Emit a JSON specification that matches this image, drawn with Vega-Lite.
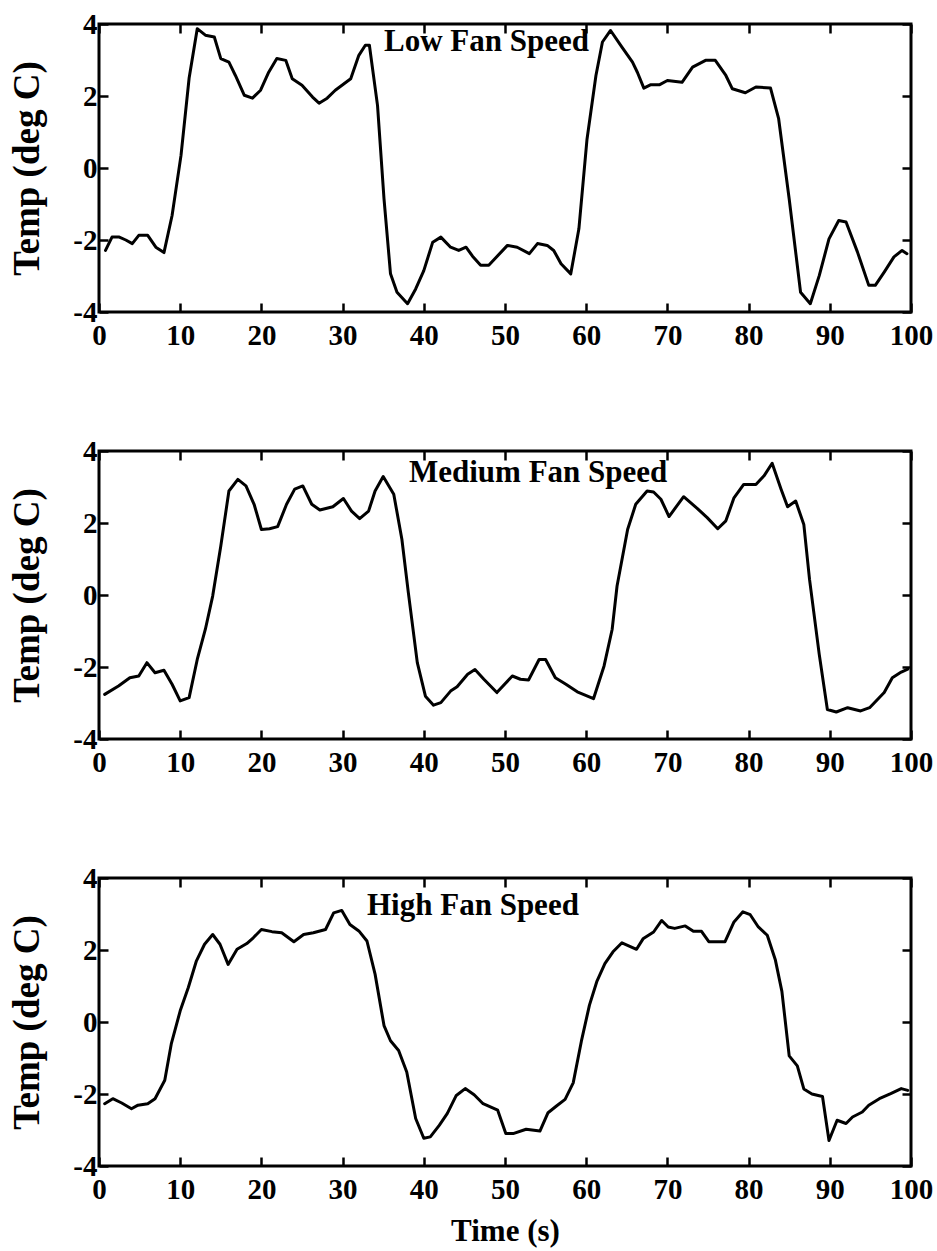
{
  "$schema": "https://vega.github.io/schema/vega-lite/v6.json",
  "background": "white",
  "padding": {"left": 7, "top": 8, "right": 5, "bottom": 5},
  "datasets": {
    "low": [
      {"t": 0.8, "temp": -2.29}, {"t": 1.6, "temp": -1.92}, {"t": 2.5, "temp": -1.92}, {"t": 3.3, "temp": -2.0}, {"t": 4.1, "temp": -2.1},
      {"t": 4.9, "temp": -1.87}, {"t": 6.0, "temp": -1.87}, {"t": 7.0, "temp": -2.2}, {"t": 8.0, "temp": -2.35}, {"t": 9.0, "temp": -1.32},
      {"t": 10.1, "temp": 0.35}, {"t": 11.1, "temp": 2.5}, {"t": 12.1, "temp": 3.87}, {"t": 13.1, "temp": 3.69}, {"t": 14.2, "temp": 3.64},
      {"t": 15.0, "temp": 3.04}, {"t": 16.0, "temp": 2.94}, {"t": 16.8, "temp": 2.57}, {"t": 17.9, "temp": 2.02}, {"t": 18.9, "temp": 1.94},
      {"t": 19.9, "temp": 2.16}, {"t": 20.9, "temp": 2.66}, {"t": 21.9, "temp": 3.04}, {"t": 23.0, "temp": 2.99}, {"t": 23.8, "temp": 2.48},
      {"t": 25.0, "temp": 2.3}, {"t": 26.3, "temp": 1.97}, {"t": 27.1, "temp": 1.8}, {"t": 28.1, "temp": 1.94}, {"t": 29.1, "temp": 2.16},
      {"t": 31.0, "temp": 2.48}, {"t": 32.0, "temp": 3.13}, {"t": 32.8, "temp": 3.41}, {"t": 33.3, "temp": 3.41}, {"t": 34.3, "temp": 1.74},
      {"t": 35.1, "temp": -0.86}, {"t": 35.9, "temp": -2.94}, {"t": 36.7, "temp": -3.45}, {"t": 38.0, "temp": -3.77}, {"t": 39.0, "temp": -3.36},
      {"t": 40.0, "temp": -2.85}, {"t": 41.1, "temp": -2.06}, {"t": 42.1, "temp": -1.92}, {"t": 43.3, "temp": -2.2}, {"t": 44.3, "temp": -2.29},
      {"t": 45.2, "temp": -2.2}, {"t": 46.0, "temp": -2.45}, {"t": 47.0, "temp": -2.7}, {"t": 48.0, "temp": -2.7}, {"t": 50.3, "temp": -2.15},
      {"t": 51.5, "temp": -2.2}, {"t": 53.0, "temp": -2.38}, {"t": 54.0, "temp": -2.1}, {"t": 55.2, "temp": -2.15}, {"t": 56.0, "temp": -2.29},
      {"t": 56.9, "temp": -2.66}, {"t": 58.1, "temp": -2.94}, {"t": 59.1, "temp": -1.69}, {"t": 60.1, "temp": 0.8}, {"t": 61.2, "temp": 2.57},
      {"t": 62.0, "temp": 3.5}, {"t": 63.0, "temp": 3.82}, {"t": 64.4, "temp": 3.36}, {"t": 65.7, "temp": 2.94}, {"t": 66.3, "temp": 2.66},
      {"t": 67.1, "temp": 2.22}, {"t": 67.9, "temp": 2.31}, {"t": 69.0, "temp": 2.31}, {"t": 70.0, "temp": 2.43}, {"t": 71.8, "temp": 2.38},
      {"t": 73.1, "temp": 2.8}, {"t": 74.7, "temp": 2.99}, {"t": 75.9, "temp": 2.99}, {"t": 77.2, "temp": 2.57}, {"t": 78.0, "temp": 2.2},
      {"t": 79.6, "temp": 2.09}, {"t": 80.9, "temp": 2.25}, {"t": 82.7, "temp": 2.22}, {"t": 83.7, "temp": 1.37}, {"t": 85.0, "temp": -0.86},
      {"t": 86.4, "temp": -3.45}, {"t": 87.6, "temp": -3.77}, {"t": 88.7, "temp": -2.99}, {"t": 89.9, "temp": -1.97}, {"t": 91.1, "temp": -1.46},
      {"t": 92.0, "temp": -1.5}, {"t": 93.4, "temp": -2.33}, {"t": 94.8, "temp": -3.26}, {"t": 95.6, "temp": -3.26}, {"t": 96.7, "temp": -2.89},
      {"t": 97.9, "temp": -2.47}, {"t": 98.9, "temp": -2.29}, {"t": 99.5, "temp": -2.38}
    ],
    "medium": [
      {"t": 0.7, "temp": -2.76}, {"t": 2.4, "temp": -2.53}, {"t": 3.8, "temp": -2.3}, {"t": 4.9, "temp": -2.25}, {"t": 5.9, "temp": -1.88},
      {"t": 6.9, "temp": -2.16}, {"t": 8.0, "temp": -2.09}, {"t": 9.0, "temp": -2.48}, {"t": 10.0, "temp": -2.94}, {"t": 11.1, "temp": -2.85},
      {"t": 12.1, "temp": -1.79}, {"t": 13.1, "temp": -0.95}, {"t": 14.0, "temp": -0.03}, {"t": 15.0, "temp": 1.36}, {"t": 16.0, "temp": 2.89},
      {"t": 17.1, "temp": 3.21}, {"t": 18.1, "temp": 3.03}, {"t": 19.1, "temp": 2.52}, {"t": 20.0, "temp": 1.82}, {"t": 21.0, "temp": 1.84},
      {"t": 22.0, "temp": 1.9}, {"t": 23.1, "temp": 2.52}, {"t": 24.1, "temp": 2.94}, {"t": 25.1, "temp": 3.03}, {"t": 26.2, "temp": 2.52},
      {"t": 27.2, "temp": 2.36}, {"t": 28.8, "temp": 2.45}, {"t": 30.1, "temp": 2.68}, {"t": 31.1, "temp": 2.33}, {"t": 32.1, "temp": 2.12},
      {"t": 33.2, "temp": 2.33}, {"t": 34.0, "temp": 2.89}, {"t": 35.0, "temp": 3.29}, {"t": 36.3, "temp": 2.8}, {"t": 37.3, "temp": 1.55},
      {"t": 38.1, "temp": 0.06}, {"t": 39.2, "temp": -1.88}, {"t": 40.2, "temp": -2.81}, {"t": 41.2, "temp": -3.06}, {"t": 42.1, "temp": -2.99},
      {"t": 43.3, "temp": -2.67}, {"t": 44.1, "temp": -2.55}, {"t": 45.4, "temp": -2.2}, {"t": 46.3, "temp": -2.07}, {"t": 47.4, "temp": -2.34},
      {"t": 49.0, "temp": -2.71}, {"t": 50.9, "temp": -2.25}, {"t": 51.9, "temp": -2.34}, {"t": 52.9, "temp": -2.36}, {"t": 54.2, "temp": -1.79},
      {"t": 55.0, "temp": -1.79}, {"t": 56.2, "temp": -2.3}, {"t": 57.5, "temp": -2.48}, {"t": 58.9, "temp": -2.69}, {"t": 60.9, "temp": -2.88},
      {"t": 62.2, "temp": -1.97}, {"t": 63.2, "temp": -0.95}, {"t": 63.8, "temp": 0.25}, {"t": 65.1, "temp": 1.82}, {"t": 66.1, "temp": 2.52},
      {"t": 67.5, "temp": 2.89}, {"t": 68.3, "temp": 2.86}, {"t": 69.2, "temp": 2.66}, {"t": 70.2, "temp": 2.18}, {"t": 72.0, "temp": 2.73},
      {"t": 73.7, "temp": 2.4}, {"t": 74.9, "temp": 2.15}, {"t": 76.2, "temp": 1.84}, {"t": 77.2, "temp": 2.06}, {"t": 78.2, "temp": 2.7},
      {"t": 79.4, "temp": 3.07}, {"t": 80.9, "temp": 3.07}, {"t": 81.9, "temp": 3.31}, {"t": 82.9, "temp": 3.66}, {"t": 84.0, "temp": 2.94},
      {"t": 84.8, "temp": 2.45}, {"t": 85.8, "temp": 2.61}, {"t": 86.8, "temp": 1.96}, {"t": 87.5, "temp": 0.44}, {"t": 88.7, "temp": -1.65},
      {"t": 89.7, "temp": -3.18}, {"t": 90.8, "temp": -3.25}, {"t": 92.2, "temp": -3.13}, {"t": 93.8, "temp": -3.22}, {"t": 94.9, "temp": -3.13},
      {"t": 96.7, "temp": -2.71}, {"t": 97.7, "temp": -2.3}, {"t": 98.8, "temp": -2.14}, {"t": 99.6, "temp": -2.06}
    ],
    "high": [
      {"t": 0.7, "temp": -2.27}, {"t": 1.7, "temp": -2.13}, {"t": 2.8, "temp": -2.25}, {"t": 4.0, "temp": -2.41}, {"t": 4.8, "temp": -2.31},
      {"t": 6.0, "temp": -2.27}, {"t": 6.9, "temp": -2.13}, {"t": 8.1, "temp": -1.62}, {"t": 8.9, "temp": -0.61}, {"t": 10.0, "temp": 0.31},
      {"t": 11.0, "temp": 0.96}, {"t": 12.0, "temp": 1.7}, {"t": 13.0, "temp": 2.16}, {"t": 14.0, "temp": 2.43}, {"t": 14.9, "temp": 2.16},
      {"t": 15.9, "temp": 1.6}, {"t": 17.0, "temp": 2.02}, {"t": 18.2, "temp": 2.18}, {"t": 19.0, "temp": 2.34}, {"t": 20.0, "temp": 2.57},
      {"t": 21.3, "temp": 2.51}, {"t": 22.5, "temp": 2.48}, {"t": 24.0, "temp": 2.23}, {"t": 25.2, "temp": 2.43}, {"t": 26.4, "temp": 2.48},
      {"t": 27.9, "temp": 2.57}, {"t": 28.9, "temp": 3.03}, {"t": 29.9, "temp": 3.1}, {"t": 30.9, "temp": 2.71}, {"t": 32.0, "temp": 2.53},
      {"t": 33.0, "temp": 2.25}, {"t": 34.0, "temp": 1.33}, {"t": 35.1, "temp": -0.1}, {"t": 35.9, "temp": -0.52}, {"t": 36.9, "temp": -0.79},
      {"t": 37.9, "temp": -1.39}, {"t": 39.0, "temp": -2.68}, {"t": 40.0, "temp": -3.23}, {"t": 40.8, "temp": -3.19}, {"t": 41.9, "temp": -2.87},
      {"t": 42.9, "temp": -2.54}, {"t": 44.0, "temp": -2.04}, {"t": 45.1, "temp": -1.85}, {"t": 46.2, "temp": -2.02}, {"t": 47.3, "temp": -2.27},
      {"t": 49.1, "temp": -2.45}, {"t": 50.1, "temp": -3.1}, {"t": 51.0, "temp": -3.1}, {"t": 52.6, "temp": -2.98}, {"t": 54.3, "temp": -3.03},
      {"t": 55.3, "temp": -2.52}, {"t": 56.3, "temp": -2.34}, {"t": 57.4, "temp": -2.15}, {"t": 58.4, "temp": -1.69}, {"t": 59.4, "temp": -0.54},
      {"t": 60.4, "temp": 0.47}, {"t": 61.3, "temp": 1.12}, {"t": 62.3, "temp": 1.62}, {"t": 63.3, "temp": 1.95}, {"t": 64.4, "temp": 2.2},
      {"t": 66.2, "temp": 2.02}, {"t": 67.0, "temp": 2.31}, {"t": 68.3, "temp": 2.5}, {"t": 69.3, "temp": 2.82}, {"t": 70.1, "temp": 2.64},
      {"t": 70.9, "temp": 2.6}, {"t": 72.2, "temp": 2.67}, {"t": 73.2, "temp": 2.52}, {"t": 74.2, "temp": 2.52}, {"t": 75.1, "temp": 2.23},
      {"t": 77.1, "temp": 2.23}, {"t": 78.2, "temp": 2.78}, {"t": 79.3, "temp": 3.06}, {"t": 80.2, "temp": 2.98}, {"t": 81.2, "temp": 2.64},
      {"t": 82.3, "temp": 2.41}, {"t": 83.3, "temp": 1.72}, {"t": 84.1, "temp": 0.85}, {"t": 85.0, "temp": -0.94}, {"t": 86.0, "temp": -1.22},
      {"t": 86.8, "temp": -1.86}, {"t": 87.8, "temp": -2.0}, {"t": 89.1, "temp": -2.07}, {"t": 89.9, "temp": -3.29}, {"t": 90.9, "temp": -2.73},
      {"t": 92.0, "temp": -2.82}, {"t": 92.8, "temp": -2.64}, {"t": 94.0, "temp": -2.5}, {"t": 94.8, "temp": -2.31}, {"t": 96.1, "temp": -2.13},
      {"t": 97.5, "temp": -1.99}, {"t": 98.8, "temp": -1.85}, {"t": 99.6, "temp": -1.9}
    ]
  },
  "bounds": "flush",
  "spacing": 139,
  "vconcat": [
    {
      "width": 812, "height": 288,
      "data": {"name": "low"},
      "title": {"text": "Low Fan Speed", "anchor": "start", "frame": "group", "dx": 285, "offset": -48},
      "layer": [
        {
          "mark": {"type": "line", "color": "black", "strokeWidth": 3, "strokeJoin": "round", "strokeCap": "round"},
          "encoding": {
            "x": {"field": "t", "type": "quantitative", "scale": {"domain": [0, 100], "nice": false}, "axis": {"values": [0, 10, 20, 30, 40, 50, 60, 70, 80, 90, 100], "title": null}},
            "y": {"field": "temp", "type": "quantitative", "scale": {"domain": [-4, 4], "nice": false}, "axis": {"values": [-4, -2, 0, 2, 4], "title": "Temp (deg C)"}}
          }
        },
        {
          "mark": {"type": "line", "opacity": 0},
          "encoding": {
            "x": {"field": "t", "type": "quantitative", "axis": {"orient": "top", "labels": false, "title": null, "values": [0, 10, 20, 30, 40, 50, 60, 70, 80, 90, 100]}},
            "y": {"field": "temp", "type": "quantitative", "axis": {"orient": "right", "labels": false, "title": null, "values": [-4, -2, 0, 2, 4]}}
          }
        }
      ],
      "resolve": {"axis": {"x": "independent", "y": "independent"}}
    },
    {
      "width": 812, "height": 288,
      "data": {"name": "medium"},
      "title": {"text": "Medium Fan Speed", "anchor": "start", "frame": "group", "dx": 310, "offset": -52},
      "layer": [
        {
          "mark": {"type": "line", "color": "black", "strokeWidth": 3, "strokeJoin": "round", "strokeCap": "round"},
          "encoding": {
            "x": {"field": "t", "type": "quantitative", "scale": {"domain": [0, 100], "nice": false}, "axis": {"values": [0, 10, 20, 30, 40, 50, 60, 70, 80, 90, 100], "title": null}},
            "y": {"field": "temp", "type": "quantitative", "scale": {"domain": [-4, 4], "nice": false}, "axis": {"values": [-4, -2, 0, 2, 4], "title": "Temp (deg C)"}}
          }
        },
        {
          "mark": {"type": "line", "opacity": 0},
          "encoding": {
            "x": {"field": "t", "type": "quantitative", "axis": {"orient": "top", "labels": false, "title": null, "values": [0, 10, 20, 30, 40, 50, 60, 70, 80, 90, 100]}},
            "y": {"field": "temp", "type": "quantitative", "axis": {"orient": "right", "labels": false, "title": null, "values": [-4, -2, 0, 2, 4]}}
          }
        }
      ],
      "resolve": {"axis": {"x": "independent", "y": "independent"}}
    },
    {
      "width": 812, "height": 288,
      "data": {"name": "high"},
      "title": {"text": "High Fan Speed", "anchor": "start", "frame": "group", "dx": 268, "offset": -58},
      "layer": [
        {
          "mark": {"type": "line", "color": "black", "strokeWidth": 3, "strokeJoin": "round", "strokeCap": "round"},
          "encoding": {
            "x": {"field": "t", "type": "quantitative", "scale": {"domain": [0, 100], "nice": false}, "axis": {"values": [0, 10, 20, 30, 40, 50, 60, 70, 80, 90, 100], "title": "Time (s)"}},
            "y": {"field": "temp", "type": "quantitative", "scale": {"domain": [-4, 4], "nice": false}, "axis": {"values": [-4, -2, 0, 2, 4], "title": "Temp (deg C)"}}
          }
        },
        {
          "mark": {"type": "line", "opacity": 0},
          "encoding": {
            "x": {"field": "t", "type": "quantitative", "axis": {"orient": "top", "labels": false, "title": null, "values": [0, 10, 20, 30, 40, 50, 60, 70, 80, 90, 100]}},
            "y": {"field": "temp", "type": "quantitative", "axis": {"orient": "right", "labels": false, "title": null, "values": [-4, -2, 0, 2, 4]}}
          }
        }
      ],
      "resolve": {"axis": {"x": "independent", "y": "independent"}}
    }
  ],
  "config": {
    "font": "Liberation Serif",
    "view": {"stroke": "black", "strokeWidth": 3},
    "axis": {
      "domain": false,
      "grid": false,
      "ticks": true,
      "tickSize": -9,
      "tickWidth": 2.5,
      "tickColor": "black",
      "labelExpr": "'' + datum.value",
      "labelFont": "Liberation Serif",
      "labelFontWeight": "bold",
      "labelFontSize": 29,
      "labelColor": "black",
      "labelFlush": false,
      "labelOverlap": false,
      "titleFont": "Liberation Serif",
      "titleFontWeight": "bold",
      "titleColor": "black"
    },
    "axisBottom": {"labelPadding": 18, "titleFontSize": 31, "titlePadding": 12},
    "axisLeft": {"labelPadding": 11, "titleFontSize": 37, "titlePadding": 26},
    "title": {"font": "Liberation Serif", "fontWeight": "bold", "fontSize": 31, "color": "black", "baseline": "alphabetic"}
  }
}
